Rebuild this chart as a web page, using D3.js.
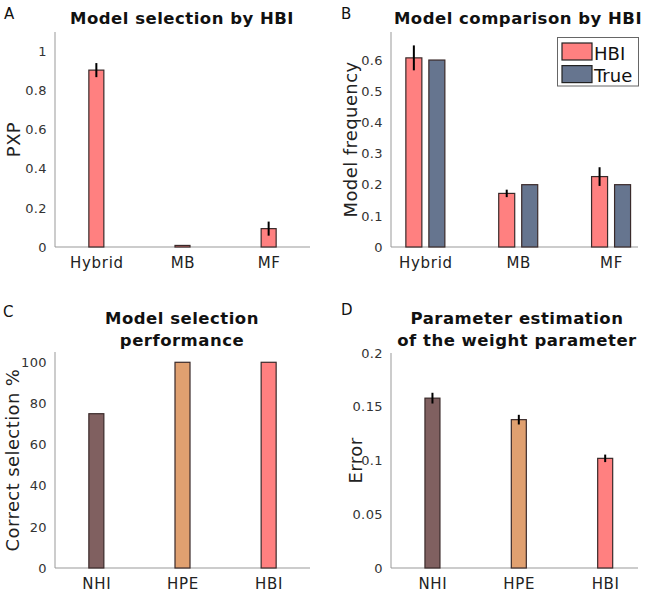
<!DOCTYPE html>
<html><head><meta charset="utf-8">
<script src="https://d3js.org/d3.v7.min.js"></script>
<style>body{margin:0;background:#fff}text{font-family:"DejaVu Sans",sans-serif}</style>
</head><body><svg id="c" width="650" height="593"></svg>
<script>
// Panel A
const modelsA = ["Hybrid","MB","MF"];
const pxp = [0.905, 0.008, 0.094];
const pxpErr = [0.036, 0, 0.036];
const ticksA = [0,0.2,0.4,0.6,0.8,1];
// Panel B
const modelsB = ["Hybrid","MB","MF"];
const freqHBI = [0.607, 0.172, 0.226];
const freqHBIErr = [0.04, 0.012, 0.03];
const freqTrue = [0.6, 0.2, 0.2];
const ticksB = [0,0.1,0.2,0.3,0.4,0.5,0.6];
const legendB = ["HBI","True"];
// Panel C
const methods = ["NHI","HPE","HBI"];
const correctPct = [75, 100, 100];
const ticksC = [0,20,40,60,80,100];
// Panel D
const weightErr = [0.158, 0.138, 0.102];
const weightErrSE = [0.005, 0.0045, 0.0035];
const ticksD = [0,0.05,0.1,0.15,0.2];

const C_PINK="#ff8080", C_BLUE="#66758f", C_BROWN="#806060", C_TAN="#e0a070";
const methodColors=[C_BROWN,C_TAN,C_PINK];

const svg=d3.select("#c");

function panel(o){
  const g=svg.append("g");
  const x=d3.scaleLinear().domain(o.xd).range([o.x0,o.x1]);
  const y=d3.scaleLinear().domain(o.yd).range([o.y0,o.y1]);
  const ya=d3.axisLeft(y).tickValues(o.ticks).tickSize(0).tickPadding(8).tickFormat(d=>d3.format("~g")(d));
  const yg=g.append("g").attr("transform",`translate(${o.x0},0)`).call(ya);
  yg.select(".domain").remove();
  yg.selectAll("text").attr("font-size",13).attr("fill","#333").attr("font-family","DejaVu Sans").attr("letter-spacing",0.4);
  g.append("line").attr("x1",o.x0).attr("x2",o.x0).attr("y1",o.y0).attr("y2",o.y1).attr("stroke","#999");
  g.append("line").attr("x1",o.x0).attr("x2",o.x1).attr("y1",o.y0).attr("y2",o.y0).attr("stroke","#999");
  const xa=d3.axisBottom(x).tickValues(o.cats.map((d,i)=>i+1)).tickSize(0).tickPadding(10).tickFormat((d,i)=>o.cats[i]);
  const xg=g.append("g").attr("transform",`translate(0,${o.y0})`).call(xa);
  xg.select(".domain").remove();
  xg.selectAll("text").attr("font-size",15).attr("fill","#222").attr("font-family","DejaVu Sans").attr("letter-spacing",0.7);
  o.title.forEach((t,i)=>g.append("text").attr("x",o.tx).attr("y",o.ty+i*22).attr("text-anchor","middle")
    .attr("font-size",16.5).attr("font-weight","bold").attr("letter-spacing",0.5).attr("fill","#111").text(t));
  g.append("text").attr("x",o.lx).attr("y",o.ly).attr("font-size",15).attr("fill","#111").text(o.letter);
  g.append("text").attr("transform",`translate(${o.ylx},${(o.y0+o.y1)/2}) rotate(-90)`).attr("text-anchor","middle")
    .attr("font-size",18).attr("letter-spacing",0.4).attr("fill","#222").text(o.ylabel);
  return {g,x,y};
}

function bars(p,vals,errs,colors,offset,w){
  vals.forEach((v,i)=>{
    const cx=p.x(i+1)+offset;
    p.g.append("rect").attr("x",cx-w/2).attr("width",w).attr("y",p.y(v)).attr("height",p.y(0)-p.y(v))
      .attr("fill",Array.isArray(colors)?colors[i]:colors).attr("stroke","#3a2a2a").attr("stroke-width",1.2);
    if(errs && errs[i]>0){
      p.g.append("line").attr("x1",cx).attr("x2",cx).attr("y1",p.y(v+errs[i])).attr("y2",p.y(v-errs[i]))
        .attr("stroke","#000").attr("stroke-width",2);
    }
  });
}

// A
const pA=panel({x0:55,x1:310,y0:247,y1:32,xd:[0.52,3.48],yd:[0,1.1],ticks:ticksA,cats:modelsA,
  title:["Model selection by HBI"],tx:182,ty:24,letter:"A",lx:4,ly:19,ylabel:"PXP",ylx:20});
bars(pA,pxp,pxpErr,C_PINK,0,15);

// B
const pB=panel({x0:391,x1:638,y0:247,y1:32,xd:[0.63,3.29],yd:[0,0.69],ticks:ticksB,cats:modelsB,
  title:["Model comparison by HBI"],tx:518,ty:24,letter:"B",lx:341,ly:19,ylabel:"Model frequency",ylx:357});
bars(pB,freqHBI,freqHBIErr,C_PINK,-11.5,16);
bars(pB,freqTrue,null,C_BLUE,11.5,16);
const lg=pB.g.append("g");
lg.append("rect").attr("x",557.5).attr("y",37.5).attr("width",81).attr("height",48.5).attr("fill","#fff").attr("stroke","#666");
[C_PINK,C_BLUE].forEach((c,i)=>{
  lg.append("rect").attr("x",562).attr("y",43+i*22.6).attr("width",30).attr("height",17).attr("fill",c).attr("stroke","#222").attr("stroke-width",1.2);
  lg.append("text").attr("x",594).attr("y",60+i*22).attr("font-size",18).attr("fill","#111").text(legendB[i]);
});

// C
const pC=panel({x0:55,x1:310,y0:568,y1:352,xd:[0.52,3.48],yd:[0,105],ticks:ticksC,cats:methods,
  title:["Model selection","performance"],tx:182,ty:324,letter:"C",lx:3,ly:317,ylabel:"Correct selection %",ylx:19});
bars(pC,correctPct,null,methodColors,0,15);

// D
const pD=panel({x0:391,x1:638,y0:568,y1:353,xd:[0.52,3.38],yd:[0,0.2],ticks:ticksD,cats:methods,
  title:["Parameter estimation","of the weight parameter"],tx:517,ty:324,letter:"D",lx:341,ly:315,ylabel:"Error",ylx:362});
bars(pD,weightErr,weightErrSE,methodColors,0,15);
</script></body></html>
